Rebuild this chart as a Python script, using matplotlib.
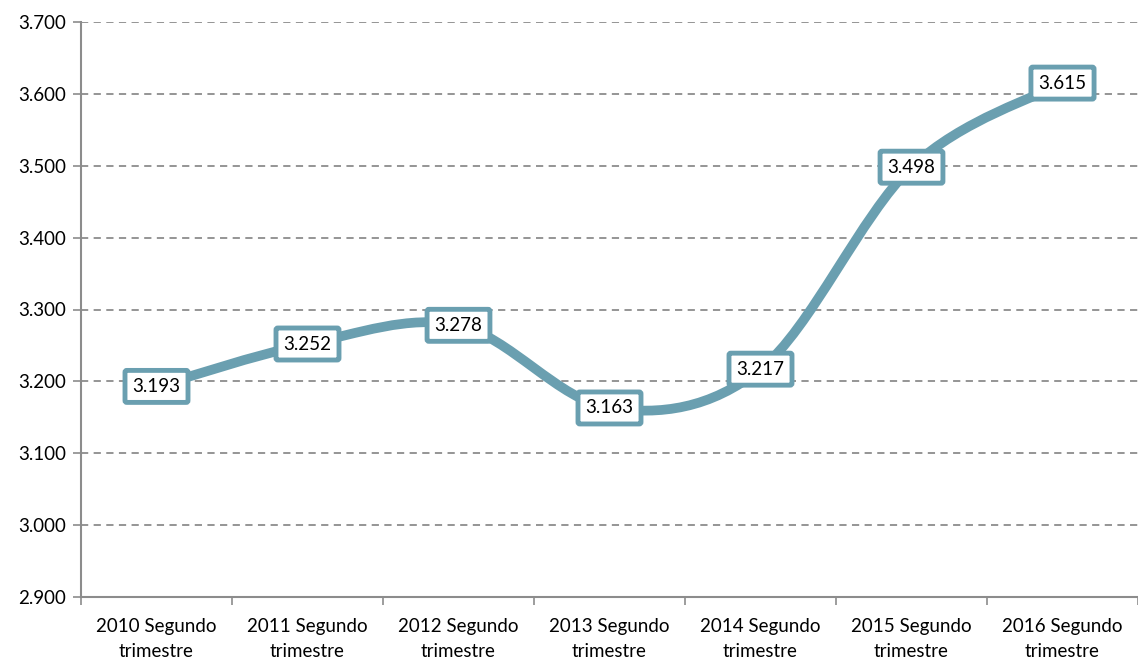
import numpy as np
import matplotlib
matplotlib.use('Agg')
from matplotlib import pyplot as plt
from matplotlib.path import Path
from matplotlib.patches import PathPatch

categories = ['2010 Segundo\ntrimestre', '2011 Segundo\ntrimestre', '2012 Segundo\ntrimestre',
              '2013 Segundo\ntrimestre', '2014 Segundo\ntrimestre', '2015 Segundo\ntrimestre',
              '2016 Segundo\ntrimestre']
values = [3.193, 3.252, 3.278, 3.163, 3.217, 3.498, 3.615]
labels = ['3.193', '3.252', '3.278', '3.163', '3.217', '3.498', '3.615']
yticks = [2.9, 3.0, 3.1, 3.2, 3.3, 3.4, 3.5, 3.6, 3.7]
ytick_labels = ['2.900', '3.000', '3.100', '3.200', '3.300', '3.400', '3.500', '3.600', '3.700']

color = '#6a9fb0'
grey = '#8c8c8c'
plt.rcParams['font.family'] = ['Lato', 'DejaVu Sans']

fig = plt.figure(figsize=(11.38, 6.61), dpi=100)
ax = fig.add_axes([81 / 1138, 1 - 597 / 661, 1057 / 1138, (597 - 22) / 661])

# smoothed line like Excel (bezier segments through the data points)
x = np.arange(len(values), dtype=float)
y = np.array(values)
verts = [(x[0], y[0])]
codes = [Path.MOVETO]
for i in range(len(x) - 1):
    p0 = np.array([x[max(i - 1, 0)], y[max(i - 1, 0)]])
    p1 = np.array([x[i], y[i]])
    p2 = np.array([x[i + 1], y[i + 1]])
    p3 = np.array([x[min(i + 2, len(x) - 1)], y[min(i + 2, len(x) - 1)]])
    c1 = p1 + (p2 - p0) / 6
    c2 = p2 - (p3 - p1) / 6
    verts += [tuple(c1), tuple(c2), tuple(p2)]
    codes += [Path.CURVE4] * 3
ax.add_patch(PathPatch(Path(verts, codes), facecolor='none', edgecolor=color,
                       lw=7, capstyle='round', joinstyle='round', zorder=3))

for xi, v, lab in zip(x, values, labels):
    ax.text(xi, v, lab, ha='center', va='center', fontsize=13.5, color='black', zorder=4,
            bbox=dict(boxstyle='round,pad=0.4,rounding_size=0.1', fc='white', ec=color, lw=3.5))

ax.set_xlim(-0.5, 6.5)
ax.set_ylim(2.9, 3.7)
ax.set_yticks(yticks)
ax.set_yticklabels(ytick_labels, fontsize=13.5)
ax.set_xticks(x)
ax.set_xticklabels(categories, fontsize=13.5, linespacing=1.6)
ax.set_xticks(np.arange(-0.5, 7, 1), minor=True)
ax.tick_params(axis='x', which='major', length=0, pad=15)
ax.tick_params(axis='x', which='minor', length=6, color=grey, width=1.2)
ax.tick_params(axis='y', length=6, color=grey, width=1.2, pad=5)
ax.grid(axis='y', color=grey, ls=(0, (4, 3)), lw=1.3)
ax.set_axisbelow(True)
for s in ['top', 'right']:
    ax.spines[s].set_visible(False)
for s in ['left', 'bottom']:
    ax.spines[s].set_color(grey)
    ax.spines[s].set_linewidth(1.5)

fig.savefig('out.png', dpi=100)
